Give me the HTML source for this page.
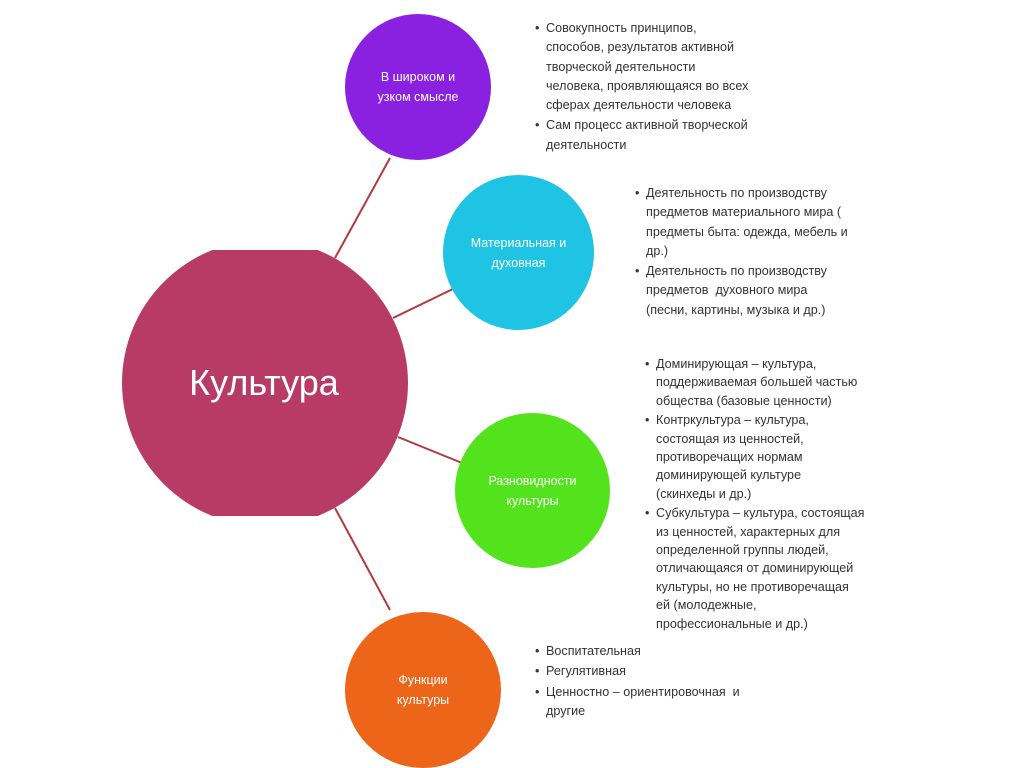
<!DOCTYPE html>
<html><head><meta charset="utf-8"><style>
body{margin:0;width:1024px;height:767px;background:#fff;position:relative;overflow:hidden;font-family:"Liberation Sans",sans-serif}
.b{position:absolute;font-size:12.6px;color:#333;white-space:nowrap}
.b div{position:relative;padding-left:11px;line-height:19.3px}
.b div:before{content:"•";position:absolute;left:0;top:0}
.b div+div{margin-top:1px}
.c{position:absolute;border-radius:50%;color:#fff;display:flex;align-items:center;justify-content:center;text-align:center;font-size:12.5px;line-height:20px}
</style></head><body>
<svg width="1024" height="767" style="position:absolute;left:0;top:0">
<g stroke="#b3383f" stroke-width="2">
<line x1="335" y1="258" x2="390" y2="158"/>
<line x1="393" y1="318" x2="457" y2="287"/>
<line x1="398" y1="437" x2="462" y2="463"/>
<line x1="335" y1="508" x2="390" y2="610"/>
</g>
<defs><clipPath id="cp"><rect x="0" y="250" width="1024" height="266"/></clipPath></defs>
<circle cx="265" cy="383" r="143" fill="#b83b66" clip-path="url(#cp)"/>
<text x="264" y="395" fill="#fff" font-size="36" text-anchor="middle" font-family="Liberation Sans, sans-serif">Культура</text>
</svg>
<div class="c" style="left:345px;top:14px;width:146px;height:146px;background:#8a21e0">В широком и<br>узком смысле</div>
<div class="c" style="left:443px;top:175px;width:151px;height:155px;background:#1fc3e4">Материальная и<br>духовная</div>
<div class="c" style="left:455px;top:413px;width:155px;height:155px;background:#53e31c">Разновидности<br>культуры</div>
<div class="c" style="left:345px;top:612px;width:156px;height:156px;background:#ec6519">Функции<br>культуры</div>
<div class="b" style="left:535px;top:19px"><div>Совокупность принципов,<br>способов, результатов активной<br>творческой деятельности<br>человека, проявляющаяся во всех<br>сферах деятельности человека</div><div>Сам процесс активной творческой<br>деятельности</div></div>
<div class="b" style="left:635px;top:184px"><div>Деятельность по производству<br>предметов материального мира (<br>предметы быта: одежда, мебель и<br>др.)</div><div>Деятельность по производству<br>предметов&nbsp; духовного мира<br>(песни, картины, музыка и др.)</div></div>
<div class="b" style="left:645px;top:355px;line-height:18.4px"><div style="line-height:18.4px">Доминирующая – культура,<br>поддерживаемая большей частью<br>общества (базовые ценности)</div><div style="line-height:18.4px">Контркультура – культура,<br>состоящая из ценностей,<br>противоречащих нормам<br>доминирующей культуре<br>(скинхеды и др.)</div><div style="line-height:18.4px">Субкультура – культура, состоящая<br>из ценностей, характерных для<br>определенной группы людей,<br>отличающаяся от доминирующей<br>культуры, но не противоречащая<br>ей (молодежные,<br>профессиональные и др.)</div></div>
<div class="b" style="left:535px;top:642px"><div>Воспитательная</div><div>Регулятивная</div><div>Ценностно – ориентировочная&nbsp; и<br>другие</div></div>
</body></html>
